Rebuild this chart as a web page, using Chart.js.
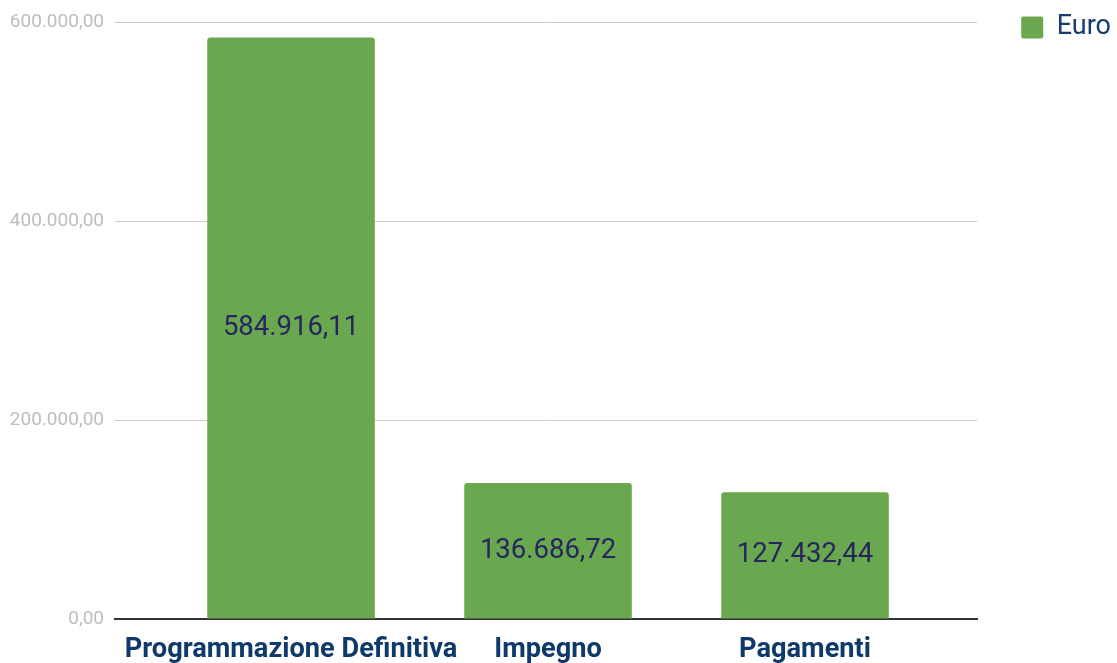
<!DOCTYPE html>
<html>
<head>
<meta charset="utf-8">
<script src="https://cdn.jsdelivr.net/npm/chart.js@4.4.1/dist/chart.umd.min.js"></script>
<style>
  html, body { margin: 0; padding: 0; background: #fff; }
  #box { width: 1117px; height: 663px; }
</style>
</head>
<body>
<div id="box"><canvas id="chart"></canvas></div>
<script>
const categorie = ["Programmazione Definitiva", "Impegno", "Pagamenti"];
const valori = [584916.11, 136686.72, 127432.44];
const nomeSerie = "Euro";
const tickY = [0, 200000, 400000, 600000];

// formato italiano 584.916,11
function formatta(v) {
    const parti = v.toFixed(2).split(".");
    const intero = parti[0].replace(/\B(?=(\d{3})+(?!\d))/g, ".");
    return intero + "," + parti[1];
}

const etichetteValori = {
    id: "etichetteValori",
    afterDatasetsDraw(chart) {
        const ctx = chart.ctx;
        ctx.save();
        ctx.font = "27.5px Roboto";
        ctx.fillStyle = "#28245e";
        ctx.textAlign = "center";
        ctx.textBaseline = "middle";
        chart.getDatasetMeta(0).data.forEach((bar, i) => {
            ctx.fillText(formatta(valori[i]), bar.x, (bar.y + bar.base) / 2);
        });
        ctx.restore();
    }
};

new Chart(document.getElementById("chart"), {
    type: "bar",
    data: {
        datasets: [{
            label: nomeSerie,
            data: valori.map((v, i) => ({ x: i, y: v })),
            backgroundColor: "#6aa84f",
            borderRadius: 3,
            borderSkipped: "bottom",
            categoryPercentage: 0.652,
            barPercentage: 1
        }]
    },
    options: {
        responsive: true,
        maintainAspectRatio: false,
        animation: false,
        layout: { padding: { right: -4 } },
        plugins: {
            tooltip: { enabled: false },
            legend: {
                position: "right",
                align: "start",
                labels: {
                    boxWidth: 22,
                    boxHeight: 22,
                    useBorderRadius: true,
                    borderRadius: 2,
                    padding: 14,
                    color: "#143d6c",
                    font: { family: "Roboto", size: 27 }
                }
            }
        },
        scales: {
            x: {
                type: "linear",
                offset: false,
                min: -0.685,
                max: 2.67,
                afterFit: s => { s.height = 44; },
                grid: { display: false, drawTicks: false },
                border: { display: true, color: "#333333", width: 2 },
                ticks: {
                    stepSize: 1,
                    autoSkip: false,
                    includeBounds: false,
                    maxRotation: 0,
                    padding: 15,
                    color: "#0e3a6b",
                    font: { family: "Roboto", size: 27.2, weight: "bold" },
                    callback: v => Number.isInteger(v) && categorie[v] !== undefined ? categorie[v] : ""
                }
            },
            y: {
                min: 0,
                max: 600000,
                afterBuildTicks: s => { s.ticks = tickY.map(v => ({ value: v })); },
                afterFit: s => { s.width = 115; },
                grid: { color: "#cccccc", lineWidth: 1, drawTicks: false },
                border: { display: false },
                ticks: {
                    padding: 11,
                    color: "#bdbdbd",
                    font: { family: "Roboto", size: 19 },
                    callback: v => formatta(v)
                }
            },
            spazio: {
                position: "right",
                display: true,
                grid: { display: false, drawTicks: false },
                border: { display: false },
                ticks: { display: false },
                afterFit: s => { s.width = 30; }
            }
        }
    },
    plugins: [etichetteValori]
});
</script>
</body>
</html>
